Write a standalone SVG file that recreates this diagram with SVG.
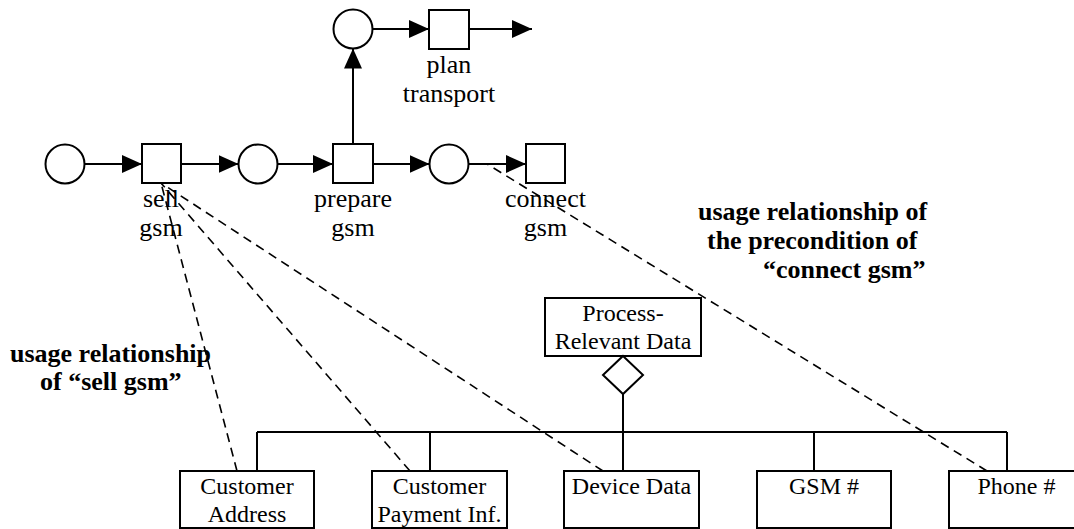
<svg xmlns="http://www.w3.org/2000/svg" width="1074" height="529" viewBox="0 0 1074 529">
  <style>
    .shape { fill: #ffffff; stroke: #000000; stroke-width: 2; }
    .arc { fill: none; stroke: #000000; stroke-width: 2; }
    .usage { fill: none; stroke: #000000; stroke-width: 1.6; stroke-dasharray: 9 6; }
    .lbl { font-family: "Liberation Serif", "Times New Roman", serif; font-size: 26px; fill: #000000; text-anchor: middle; }
    .box { font-family: "Liberation Serif", "Times New Roman", serif; font-size: 24px; fill: #000000; text-anchor: middle; }
    .note { font-family: "Liberation Serif", "Times New Roman", serif; font-size: 26px; font-weight: bold; fill: #000000; }
  </style>
  <defs>
    <marker id="head" markerUnits="userSpaceOnUse" markerWidth="22" markerHeight="20" refX="20" refY="9" orient="auto">
      <path d="M0,0 L20,9 L0,18 Z" fill="#000000"/>
    </marker>
  </defs>

  <!-- Petri net arcs and data-model links -->
  <g id="connectors">
    <line class="arc" x1="84.5" y1="164" x2="142" y2="164" marker-end="url(#head)"/>
    <line class="arc" x1="181" y1="164" x2="238.5" y2="164" marker-end="url(#head)"/>
    <line class="arc" x1="277.5" y1="164" x2="333" y2="164" marker-end="url(#head)"/>
    <line class="arc" x1="373" y1="164" x2="429.5" y2="164" marker-end="url(#head)"/>
    <line class="arc" x1="468.5" y1="164" x2="526" y2="164" marker-end="url(#head)"/>
    <line class="arc" x1="353" y1="144" x2="353" y2="48.5" marker-end="url(#head)"/>
    <line class="arc" x1="372.5" y1="29" x2="429" y2="29" marker-end="url(#head)"/>
    <line class="arc" x1="469" y1="29" x2="532" y2="29" marker-end="url(#head)"/>

    <!-- aggregation tree -->
    <line class="arc" x1="623" y1="394" x2="623" y2="471"/>
    <line class="arc" x1="257" y1="432" x2="1007" y2="432"/>
    <line class="arc" x1="257" y1="432" x2="257" y2="471"/>
    <line class="arc" x1="430" y1="432" x2="430" y2="471"/>
    <line class="arc" x1="814" y1="432" x2="814" y2="471"/>
    <line class="arc" x1="1007" y1="432" x2="1007" y2="471"/>

    <!-- usage relationships -->
    <line class="usage" x1="237" y1="471" x2="161" y2="183"/>
    <line class="usage" x1="410" y1="471" x2="161" y2="183"/>
    <line class="usage" x1="603" y1="471" x2="161" y2="183"/>
    <line class="usage" x1="987" y1="471" x2="487" y2="164"/>
  </g>

  <!-- places -->
  <g id="p-start"><circle class="shape" cx="65" cy="164" r="19.5"/></g>
  <g id="p-sold"><circle class="shape" cx="258" cy="164" r="19.5"/></g>
  <g id="p-prepared"><circle class="shape" cx="449" cy="164" r="19.5"/></g>
  <g id="p-transport"><circle class="shape" cx="353" cy="29" r="19.5"/></g>

  <!-- transitions -->
  <g id="t-sell">
    <rect class="shape" x="142" y="144" width="39" height="39"/>
    <text class="lbl" x="161" y="207">sell</text>
    <text class="lbl" x="161" y="236">gsm</text>
  </g>
  <g id="t-prepare">
    <rect class="shape" x="333" y="144" width="40" height="39"/>
    <text class="lbl" x="353" y="207">prepare</text>
    <text class="lbl" x="353" y="236">gsm</text>
  </g>
  <g id="t-connect">
    <rect class="shape" x="526" y="144" width="39" height="39"/>
    <text class="lbl" x="545.5" y="207">connect</text>
    <text class="lbl" x="545.5" y="236">gsm</text>
  </g>
  <g id="t-plan">
    <rect class="shape" x="429" y="10" width="40" height="39"/>
    <text class="lbl" x="449" y="73">plan</text>
    <text class="lbl" x="449" y="102">transport</text>
  </g>

  <!-- data model -->
  <g id="process-relevant-data">
    <rect class="shape" x="545" y="298" width="156" height="58"/>
    <text class="box" x="623" y="321">Process-</text>
    <text class="box" x="623" y="349">Relevant Data</text>
    <path class="shape" d="M623,356 L643,375 L623,394 L603,375 Z"/>
  </g>
  <g id="customer-address">
    <rect class="shape" x="180" y="471" width="134" height="57"/>
    <text class="box" x="247" y="494">Customer</text>
    <text class="box" x="247" y="522">Address</text>
  </g>
  <g id="customer-payment">
    <rect class="shape" x="372" y="471" width="135" height="57"/>
    <text class="box" x="439.5" y="494">Customer</text>
    <text class="box" x="439.5" y="522">Payment Inf.</text>
  </g>
  <g id="device-data">
    <rect class="shape" x="564" y="471" width="135" height="57"/>
    <text class="box" x="631.5" y="494">Device Data</text>
  </g>
  <g id="gsm-number">
    <rect class="shape" x="757" y="471" width="134" height="57"/>
    <text class="box" x="824" y="494">GSM #</text>
  </g>
  <g id="phone-number">
    <rect class="shape" x="949" y="471" width="135" height="57"/>
    <text class="box" x="1016.5" y="494">Phone #</text>
  </g>

  <!-- annotations -->
  <g id="note-sell">
    <text class="note" x="10" y="362">usage relationship</text>
    <text class="note" x="40" y="390">of “sell gsm”</text>
  </g>
  <g id="note-connect">
    <text class="note" x="698" y="220">usage relationship of</text>
    <text class="note" x="707" y="249">the precondition of</text>
    <text class="note" x="763" y="278">“connect gsm”</text>
  </g>
</svg>
